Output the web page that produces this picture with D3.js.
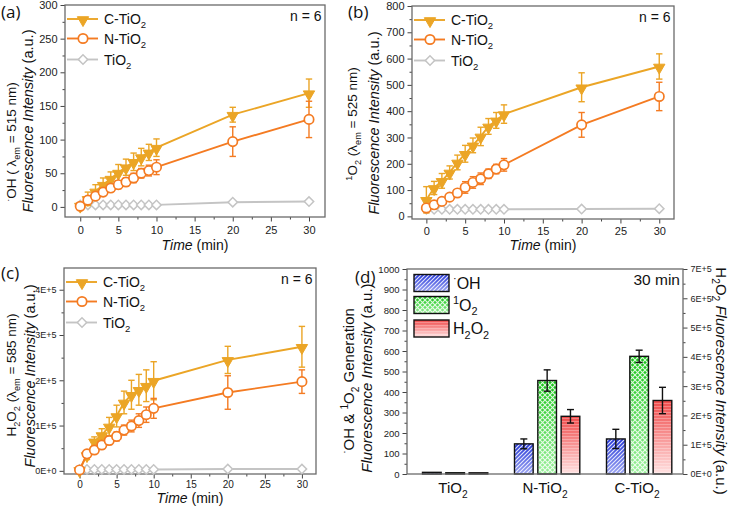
<!DOCTYPE html>
<html>
<head>
<meta charset="utf-8">
<script src="https://cdn.jsdelivr.net/npm/d3@7"></script>
<style>
  html, body { margin: 0; padding: 0; background: #fff; }
  svg { display: block; font-family: "Liberation Sans", Arial, sans-serif; }
</style>
</head>
<body>
<svg id="chart" width="734" height="510"></svg>
<script>
// ---- data ----
const times = [0, 1, 2, 3, 4, 5, 6, 7, 8, 9, 10, 20, 30];

// (a) ·OH
const ohC = [2, 12, 23, 33, 42, 51, 59, 67, 74, 81, 88, 137, 169];
const ohCErr = [3, 10, 10, 10, 10, 12, 12, 13, 13, 12, 13, 11, 21];
const ohN = [1, 10, 16, 22, 28, 33, 37, 43, 50, 54, 59, 97, 130];
const ohNErr = [2, 4, 4, 5, 5, 6, 6, 7, 7, 8, 11, 22, 27];
const ohT = [3, 3, 3, 3, 3, 3, 3, 3, 3, 3, 3, 7, 8];
const ohTErr = [1, 1, 1, 1, 1, 1, 1, 1, 1, 1, 1, 1, 1];

// (b) 1O2
const o2C = [63, 108, 135, 167, 205, 238, 270, 304, 342, 365, 389, 491, 570];
const o2CErr = [50, 25, 28, 25, 28, 32, 28, 35, 30, 30, 35, 55, 48];
const o2N = [32, 44, 57, 73, 89, 110, 129, 143, 162, 180, 196, 348, 456];
const o2NErr = [10, 10, 10, 12, 12, 22, 22, 22, 18, 18, 24, 47, 54];
const o2T = [27, 27, 27, 27, 27, 27, 27, 27, 27, 27, 27, 28, 29];
const o2TErr = [3, 3, 3, 3, 3, 3, 3, 3, 3, 3, 3, 3, 3];

// (c) H2O2
const h2C = [2000, 35000, 65000, 79000, 98000, 121000, 151000, 168000, 179000, 188000, 199000, 245000, 274000];
const h2CErr = [2000, 10000, 10000, 14000, 20000, 24000, 25000, 32000, 34000, 35000, 42000, 30000, 45000];
const h2N = [2000, 37500, 46000, 57000, 67000, 76000, 90000, 99000, 111000, 124000, 138000, 173000, 197000];
const h2NErr = [2000, 5000, 6000, 8000, 9000, 10000, 11000, 13000, 15000, 17000, 22000, 37000, 26000];
const h2T = [3000, 3000, 3000, 3000, 3000, 3000, 3000, 3000, 3000, 3000, 3000, 4000, 4000];
const h2TErr = [1000, 1000, 1000, 1000, 1000, 1000, 1000, 1000, 1000, 1000, 1000, 1000, 1000];

// (d) 30 min bars
const barGroups = ['TiO2', 'N-TiO2', 'C-TiO2'];
const barOH = [8, 147, 171];
const barOHErr = [2, 24, 47];
const barO2 = [6, 456, 574];
const barO2Err = [1, 52, 30];
const barH2 = [4000, 197000, 251000];
const barH2Err = [1000, 23000, 45000];

// ticks
const xTicks = [0, 5, 10, 15, 20, 25, 30];
const xMinor = [2.5, 7.5, 12.5, 17.5, 22.5, 27.5];
const aYTicks = [0, 50, 100, 150, 200, 250, 300];
const aYMinor = [25, 75, 125, 175, 225, 275];
const bYTicks = [0, 100, 200, 300, 400, 500, 600, 700, 800];
const bYMinor = [50, 150, 250, 350, 450, 550, 650, 750];
const cYTicks = [0, 100000, 200000, 300000, 400000];
const cYLabels = ['0E+0', '1E+5', '2E+5', '3E+5', '4E+5'];
const cYMinor = [50000, 150000, 250000, 350000];
const dYTicks = [0, 100, 200, 300, 400, 500, 600, 700, 800, 900, 1000];
const dYMinor = [50, 150, 250, 350, 450, 550, 650, 750, 850, 950];
const dRTicks = [0, 100000, 200000, 300000, 400000, 500000, 600000, 700000];
const dRLabels = ['0E+0', '1E+5', '2E+5', '3E+5', '4E+5', '5E+5', '6E+5', '7E+5'];
const dRMinor = [50000, 150000, 250000, 350000, 450000, 550000, 650000];

const gold = '#EBA526';
const orange = '#F47B22';
const grey = '#C4C4C4';
const frameColor = '#6a6a6a';

const svg = d3.select('#chart');
svg.append('rect').attr('width', 734).attr('height', 510).attr('fill', '#fff');
const defs = svg.append('defs');

// text with sub/superscripts; parts = [[text, flag]], flag: '', 'sub', 'sup', 'i'
function rich(text, parts, size) {
  let cur = 0;
  parts.forEach(([t, flag]) => {
    const target = flag === 'sub' ? size * 0.3 : flag === 'sup' ? -size * 0.4 : 0;
    text.append('tspan')
      .text(t)
      .attr('dy', target - cur)
      .attr('font-size', flag === 'sub' || flag === 'sup' ? size * 0.68 : size)
      .attr('font-style', flag === 'i' ? 'italic' : null);
    cur = target;
  });
  return text;
}

function marker(g, kind, color, cx, cy) {
  if (kind === 'tri') {
    g.append('path')
      .attr('d', d3.symbol(d3.symbolTriangle, 56)())
      .attr('transform', `translate(${cx},${cy + 1}) rotate(180)`)
      .attr('fill', color).attr('stroke', color).attr('stroke-width', 1);
  } else if (kind === 'circle') {
    g.append('circle').attr('cx', cx).attr('cy', cy).attr('r', 4.7)
      .attr('fill', '#fff').attr('stroke', color).attr('stroke-width', 1.7);
  } else {
    g.append('path')
      .attr('d', d3.symbol(d3.symbolSquare, 44)())
      .attr('transform', `translate(${cx},${cy}) rotate(45)`)
      .attr('fill', '#fff').attr('stroke', color).attr('stroke-width', 1.5);
  }
}

function styleAxis(g, fontSize) {
  g.select('.domain').remove();
  g.selectAll('.tick line').attr('stroke', '#444').attr('stroke-width', 1);
  g.selectAll('.tick text').attr('fill', '#222').attr('font-size', fontSize)
    .attr('font-family', '"Liberation Sans", Arial, sans-serif');
}

function linePanel(p) {
  const x = d3.scaleLinear().domain(p.xDomain).range([p.x0, p.x1]);
  const y = d3.scaleLinear().domain(p.yDomain).range([p.y1, p.y0]);
  const g = svg.append('g');

  g.append('g').attr('transform', `translate(0,${p.y1})`)
    .call(d3.axisBottom(x).tickValues(xMinor).tickSize(2.5).tickFormat(''))
    .call((a) => styleAxis(a, 11));
  g.append('g').attr('transform', `translate(0,${p.y1})`)
    .call(d3.axisBottom(x).tickValues(xTicks).tickSize(4.5).tickPadding(p.xPad).tickFormat(d3.format('d')))
    .call((a) => styleAxis(a, p.xFont));
  g.append('g').attr('transform', `translate(${p.x0},0)`)
    .call(d3.axisLeft(y).tickValues(p.yMinor).tickSize(2.5).tickFormat(''))
    .call((a) => styleAxis(a, 11));
  g.append('g').attr('transform', `translate(${p.x0},0)`)
    .call(d3.axisLeft(y).tickValues(p.yTicks).tickSize(4.5).tickPadding(3)
      .tickFormat((d, i) => (p.yLabels ? p.yLabels[i] : d)))
    .call((a) => styleAxis(a, p.yFont));

  g.append('rect')
    .attr('x', p.x0).attr('y', p.y0)
    .attr('width', p.x1 - p.x0).attr('height', p.y1 - p.y0)
    .attr('fill', 'none').attr('stroke', frameColor).attr('stroke-width', 1.3);

  const line = d3.line().x((d) => x(d[0])).y((d) => y(d[1]));
  p.series.forEach((s) => {
    const pts = times.map((t, i) => [t, s.v[i], s.e[i]]);
    const sg = g.append('g');
    sg.append('path').datum(pts).attr('d', line)
      .attr('fill', 'none').attr('stroke', s.color).attr('stroke-width', 1.9);
    pts.forEach(([t, v, e]) => {
      const cx = x(t);
      sg.append('line').attr('x1', cx).attr('x2', cx).attr('y1', y(v - e)).attr('y2', y(v + e))
        .attr('stroke', s.color).attr('stroke-width', 1.4);
      [v - e, v + e].forEach((w) => {
        sg.append('line').attr('x1', cx - 3.2).attr('x2', cx + 3.2).attr('y1', y(w)).attr('y2', y(w))
          .attr('stroke', s.color).attr('stroke-width', 1.4);
      });
    });
    pts.forEach(([t, v]) => marker(sg, s.kind, s.color, x(t), y(v)));
  });

  // legend (in C, N, TiO2 order)
  p.legend.forEach((s, i) => {
    const ly = p.y0 + [14, 33.5, 54.5][i];
    const lg = g.append('g');
    lg.append('line').attr('x1', p.x0 + 2).attr('x2', p.x0 + 33).attr('y1', ly).attr('y2', ly)
      .attr('stroke', s.color).attr('stroke-width', 1.9);
    marker(lg, s.kind, s.color, p.x0 + 18, ly);
    rich(lg.append('text').attr('x', p.x0 + 39).attr('y', ly + 5).attr('fill', '#111'), s.label, 14);
  });

  g.append('text').attr('x', p.x1 - 3.5).attr('y', p.y0 + 15.5).attr('text-anchor', 'end')
    .attr('font-size', 14).attr('fill', '#111').text('n = 6');

  rich(g.append('text').attr('x', (p.x0 + p.x1) / 2).attr('y', p.xTitleY)
    .attr('text-anchor', 'middle').attr('fill', '#111'), [['Time', 'i'], [' (min)', '']], 14);

  rich(g.append('text').attr('transform', `translate(${p.lab1X},${p.lab1Y}) rotate(-90)`)
    .attr('text-anchor', 'middle').attr('fill', '#111'), p.lab1, 13.5);
  rich(g.append('text').attr('transform', `translate(${p.lab2X},${p.lab2Y}) rotate(-90)`)
    .attr('text-anchor', 'middle').attr('fill', '#111'),
    [['Fluorescence Intensity', 'i'], [' (a.u.)', '']], 14.5);

  g.append('text').attr('x', p.tagX).attr('y', p.tagY).attr('font-family', '"Open Sans", sans-serif')
    .attr('font-size', 17).attr('fill', '#111').text(p.tag);
}

const lblC = [['C-TiO', ''], ['2', 'sub']];
const lblN = [['N-TiO', ''], ['2', 'sub']];
const lblT = [['TiO', ''], ['2', 'sub']];

function mkSeries(c, ce, n, ne, t, te) {
  const C = { v: c, e: ce, color: gold, kind: 'tri', label: lblC };
  const N = { v: n, e: ne, color: orange, kind: 'circle', label: lblN };
  const T = { v: t, e: te, color: grey, kind: 'diamond', label: lblT };
  return { series: [T, C, N], legend: [C, N, T] };
}

linePanel({
  ...mkSeries(ohC, ohCErr, ohN, ohNErr, ohT, ohTErr),
  x0: 65, x1: 325, y0: 5, y1: 217, xDomain: [-2, 32.1], yDomain: [-15, 300],
  yTicks: aYTicks, yMinor: aYMinor, xFont: 11, yFont: 11, xPad: 5, xTitleY: 250,
  lab1: [['·', 'sup'], ['OH ( λ', ''], ['em', 'sub'], [' = 515 nm)', '']], lab1X: 16, lab1Y: 142,
  lab2X: 33, lab2Y: 121, tag: '(a)', tagX: 1, tagY: 18,
});

linePanel({
  ...mkSeries(o2C, o2CErr, o2N, o2NErr, o2T, o2TErr),
  x0: 412, x1: 674, y0: 6, y1: 219, xDomain: [-1.85, 31.9], yDomain: [-10, 800],
  yTicks: bYTicks, yMinor: bYMinor, xFont: 11, yFont: 11, xPad: 4, xTitleY: 250,
  lab1: [['1', 'sup'], ['O', ''], ['2', 'sub'], [' (λ', ''], ['em', 'sub'], [' = 525 nm)', '']], lab1X: 357, lab1Y: 124,
  lab2X: 379, lab2Y: 123, tag: '(b)', tagX: 348, tagY: 18,
});

linePanel({
  ...mkSeries(h2C, h2CErr, h2N, h2NErr, h2T, h2TErr),
  x0: 64, x1: 316, y0: 268, y1: 474, xDomain: [-2.1, 31.9], yDomain: [-7000, 448000],
  yTicks: cYTicks, yLabels: cYLabels, yMinor: cYMinor, xFont: 10, yFont: 9, xPad: 2.5, xTitleY: 503,
  lab1: [['H', ''], ['2', 'sub'], ['O', ''], ['2', 'sub'], [' (λ', ''], ['em', 'sub'], [' = 585 nm)', '']], lab1X: 16, lab1Y: 375,
  lab2X: 35, lab2Y: 376, tag: '(c)', tagX: 1, tagY: 279,
});

// ---- (d) bars ----
function grad(id, top, bottom) {
  const lg = defs.append('linearGradient').attr('id', id).attr('x1', 0).attr('y1', 0).attr('x2', 0).attr('y2', 1);
  lg.append('stop').attr('offset', '0%').attr('stop-color', top);
  lg.append('stop').attr('offset', '100%').attr('stop-color', bottom);
}
grad('gOH', '#2436d8', '#9aa3f2');
grad('gO2', '#14c414', '#9cf09c');
grad('gH2', '#f04a4a', '#ffe2e2');

const pOH = defs.append('pattern').attr('id', 'pOH').attr('width', 4).attr('height', 4)
  .attr('patternUnits', 'userSpaceOnUse');
pOH.append('path').attr('d', 'M-1,1 L1,-1 M0,4 L4,0 M3,5 L5,3')
  .attr('stroke', '#fff').attr('stroke-width', 1.1).attr('stroke-opacity', 0.85);
const pO2 = defs.append('pattern').attr('id', 'pO2').attr('width', 5).attr('height', 5)
  .attr('patternUnits', 'userSpaceOnUse');
pO2.append('path').attr('d', 'M0,0 L5,5 M5,0 L0,5')
  .attr('stroke', '#fff').attr('stroke-width', 1.1).attr('stroke-opacity', 0.85);
const pH2 = defs.append('pattern').attr('id', 'pH2').attr('width', 4).attr('height', 3)
  .attr('patternUnits', 'userSpaceOnUse');
pH2.append('path').attr('d', 'M0,1.5 L4,1.5')
  .attr('stroke', '#fff').attr('stroke-width', 0.8).attr('stroke-opacity', 0.35);

const dL = 407, dR = 683, dT = 269, dB = 474;
const gx = d3.scaleBand().domain(barGroups).range([dL, dR]).padding(0);
const barKeys = ['OH', 'O2', 'H2'];
const bx = d3.scaleBand().domain(barKeys).range([15.5, 80.8]).paddingInner(0.2).paddingOuter(0);
const yL = d3.scaleLinear().domain([0, 1000]).range([dB, dT]);
const yR = d3.scaleLinear().domain([0, 700000]).range([dB, dT]);

const gd = svg.append('g');
gd.append('g').attr('transform', `translate(${dL},0)`)
  .call(d3.axisLeft(yL).tickValues(dYMinor).tickSize(2.5).tickFormat(''))
  .call((a) => styleAxis(a, 9.5));
gd.append('g').attr('transform', `translate(${dL},0)`)
  .call(d3.axisLeft(yL).tickValues(dYTicks).tickSize(4.5).tickPadding(3).tickFormat(d3.format('d')))
  .call((a) => styleAxis(a, 9.5));
gd.append('g').attr('transform', `translate(${dR},0)`)
  .call(d3.axisRight(yR).tickValues(dRMinor).tickSize(2.5).tickFormat(''))
  .call((a) => styleAxis(a, 9));
gd.append('g').attr('transform', `translate(${dR},0)`)
  .call(d3.axisRight(yR).tickValues(dRTicks).tickSize(4.5).tickPadding(3).tickFormat((d, i) => dRLabels[i]))
  .call((a) => styleAxis(a, 9));

const barSets = [
  { key: 'OH', v: barOH, e: barOHErr, y: yL, fill: 'url(#gOH)', pat: 'url(#pOH)' },
  { key: 'O2', v: barO2, e: barO2Err, y: yL, fill: 'url(#gO2)', pat: 'url(#pO2)' },
  { key: 'H2', v: barH2, e: barH2Err, y: yR, fill: 'url(#gH2)', pat: 'url(#pH2)' },
];

barSets.forEach((b) => {
  barGroups.forEach((grp, i) => {
    const x0 = gx(grp) + bx(b.key);
    const w = bx.bandwidth();
    const top = b.y(b.v[i]);
    const h = dB - top;
    gd.append('rect').attr('x', x0).attr('y', top).attr('width', w).attr('height', h).attr('fill', b.fill);
    gd.append('rect').attr('x', x0).attr('y', top).attr('width', w).attr('height', h).attr('fill', b.pat);
    gd.append('rect').attr('x', x0).attr('y', top).attr('width', w).attr('height', h)
      .attr('fill', 'none').attr('stroke', '#111').attr('stroke-width', 1.4);
    if (i > 0) {
      const cx = x0 + w / 2;
      const y1 = b.y(b.v[i] - b.e[i]);
      const y2 = b.y(b.v[i] + b.e[i]);
      gd.append('line').attr('x1', cx).attr('x2', cx).attr('y1', y1).attr('y2', y2)
        .attr('stroke', '#111').attr('stroke-width', 1.4);
      [y1, y2].forEach((yy) => gd.append('line').attr('x1', cx - 3.5).attr('x2', cx + 3.5)
        .attr('y1', yy).attr('y2', yy).attr('stroke', '#111').attr('stroke-width', 1.4));
    }
  });
});

gd.append('rect').attr('x', dL).attr('y', dT).attr('width', dR - dL).attr('height', dB - dT)
  .attr('fill', 'none').attr('stroke', frameColor).attr('stroke-width', 1.3);

// category labels
const catLabels = [lblT, lblN, lblC];
barGroups.forEach((grp, i) => {
  rich(gd.append('text').attr('x', gx(grp) + gx.bandwidth() / 2).attr('y', 493)
    .attr('text-anchor', 'middle').attr('fill', '#111'), catLabels[i], 15);
});

// legend
const dLegend = [
  { fill: 'url(#gOH)', pat: 'url(#pOH)', label: [['·', 'sup'], ['OH', '']], y: 274.5 },
  { fill: 'url(#gO2)', pat: 'url(#pO2)', label: [['1', 'sup'], ['O', ''], ['2', 'sub']], y: 296.5 },
  { fill: 'url(#gH2)', pat: 'url(#pH2)', label: [['H', ''], ['2', 'sub'], ['O', ''], ['2', 'sub']], y: 320 },
];
dLegend.forEach((l) => {
  gd.append('rect').attr('x', 414).attr('y', l.y).attr('width', 35).attr('height', 17).attr('fill', l.fill);
  gd.append('rect').attr('x', 414).attr('y', l.y).attr('width', 35).attr('height', 17).attr('fill', l.pat);
  gd.append('rect').attr('x', 414).attr('y', l.y).attr('width', 35).attr('height', 17)
    .attr('fill', 'none').attr('stroke', '#111').attr('stroke-width', 1.4);
  rich(gd.append('text').attr('x', 453).attr('y', l.y + 14).attr('fill', '#111'), l.label, 16);
});

gd.append('text').attr('x', 680).attr('y', 285).attr('text-anchor', 'end')
  .attr('font-size', 15.5).attr('fill', '#111').text('30 min');

rich(gd.append('text').attr('transform', 'translate(354,381) rotate(-90)')
  .attr('text-anchor', 'middle').attr('fill', '#111'),
  [['·', 'sup'], ['OH & ', ''], ['1', 'sup'], ['O', ''], ['2', 'sub'], [' Generation', '']], 15);
rich(gd.append('text').attr('transform', 'translate(372,378) rotate(-90)')
  .attr('text-anchor', 'middle').attr('fill', '#111'),
  [['Fluorescence Intensity', 'i'], [' (a.u.)', '']], 15);
rich(gd.append('text').attr('transform', 'translate(716,381) rotate(90)')
  .attr('text-anchor', 'middle').attr('fill', '#111'),
  [['H', ''], ['2', 'sub'], ['O', ''], ['2', 'sub'], [' ', ''], ['Fluorescence Intensity', 'i'], [' (a.u.)', '']], 15);

gd.append('text').attr('x', 355).attr('y', 283).attr('font-family', '"Open Sans", sans-serif')
  .attr('font-size', 17).attr('fill', '#111').text('(d)');
</script>
</body>
</html>
